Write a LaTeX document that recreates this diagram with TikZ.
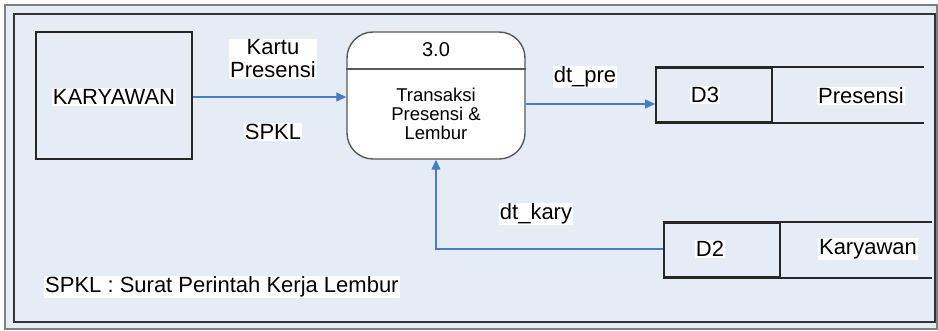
\documentclass[tikz,border=0pt]{standalone}
\usepackage{fontspec}
\setmainfont{Liberation Sans}
\usetikzlibrary{arrows.meta}
\definecolor{latar}{HTML}{E6ECF6}
\definecolor{aliran}{HTML}{4A7CC6}
\begin{document}
\begin{tikzpicture}[x=1pt,y=-1pt,
  teks/.style={font=\fontsize{22}{23}\selectfont, fill=white, inner sep=1pt},
  entitas/.style={draw=black!85, line width=1.8pt, minimum width=156pt, minimum height=127pt},
  proses/.style={draw=black!65, line width=1.4pt, fill=white, rounded corners=26pt, minimum width=178pt, minimum height=127pt},
  simpanid/.style={draw=black!85, line width=1.6pt, minimum width=116pt, minimum height=54pt},
  aliran/.style={draw=aliran, line width=1.3pt, -{Triangle[length=10pt,width=9pt]}}]
\useasboundingbox (0,0) rectangle (938,331);
% bingkai
\draw[black!50, line width=1.2pt, fill=latar] (5,5) rectangle (937,329);
\draw[black!80, line width=2pt] (14,14) rectangle (935,322);
% entitas luar
\node[entitas] (karyawan) at (114,95.5) {};
\node[teks] (namakary) at (114,97) {KARYAWAN};
% proses
\node[proses] (transaksi) at (436,95.5) {};
\draw[black!65, line width=1.3pt] (transaksi.west |- 0,69) -- (transaksi.east |- 0,69);
\node[font=\fontsize{20}{21}\selectfont] (nomor) at (436,50) {3.0};
\node[align=center, font=\fontsize{18.5}{19}\selectfont] (judul) at (436,114) {Transaksi\\Presensi \&\\Lembur};
% data store
\node[simpanid] (d3) at (714,95) {};
\node[teks] (d3id) at (705,95) {D3};
\draw[black!85, line width=1.6pt] (d3.north west) -- ++(269,0);
\draw[black!85, line width=1.6pt] (d3.south west) -- ++(269,0);
\node[teks] (presensi) at (861,96) {Presensi};
\node[simpanid] (d2) at (722,250) {};
\node[teks] (d2id) at (710,249) {D2};
\draw[black!85, line width=1.6pt] (d2.north west) -- ++(269,0);
\draw[black!85, line width=1.6pt] (d2.south west) -- ++(269,0);
\node[teks] (karyawanstore) at (868,249) {Karyawan};
% aliran data
\draw[aliran] (karyawan.east |- 0,97) -- (transaksi.west |- 0,97);
\draw[aliran] (transaksi.east |- 0,104) -- (d3.west |- 0,104);
\draw[aliran] (d2.west |- 0,249) -| (transaksi.south);
% label
\node[teks, align=center] (lblkartu) at (273,59) {Kartu\\Presensi};
\node[teks] (lblspkl) at (273,132) {SPKL};
\node[teks] (lbldtpre) at (585,77) {dt\_pre};
\node[teks] (lbldtkary) at (536,214) {dt\_kary};
\node[teks, anchor=west] (keterangan) at (44,287) {SPKL : Surat Perintah Kerja Lembur};
\end{tikzpicture}
\end{document}
